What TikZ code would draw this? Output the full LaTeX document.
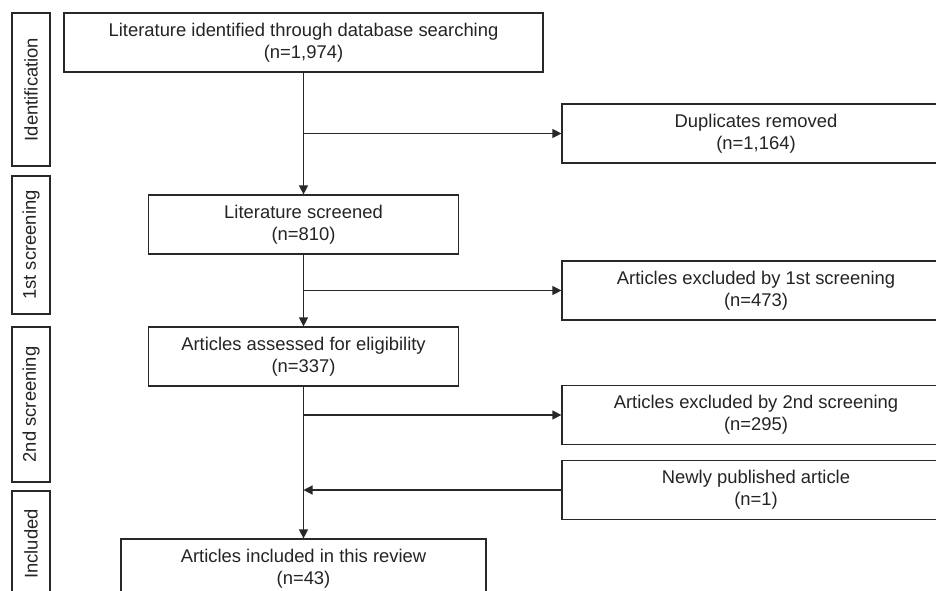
\documentclass[tikz,border=0pt]{standalone}
\usepackage{fontspec}
\setmainfont{Liberation Sans}
\usetikzlibrary{arrows.meta}
\definecolor{ink}{RGB}{40,40,40}
\tikzset{
  box/.style={draw=ink, line width=1.2pt, minimum height=59pt, align=center, inner sep=0pt,
    font=\fontsize{18.4}{22}\selectfont, text=ink!90!black},
  sidebox/.style={box, minimum width=388pt},
  stagebox/.style={draw=ink, line width=1.2pt, rotate=90, minimum height=38pt, inner sep=0pt,
    font=\fontsize{18.4}{22}\selectfont, text=ink!90!black},
  flow/.style={draw=ink, line width=1.2pt, -{Triangle[length=9pt,width=9pt]}},
  plain/.style={draw=ink, line width=1.2pt}
}
\begin{document}
\begin{tikzpicture}[x=1pt,y=-1pt]
\useasboundingbox (0,0) rectangle (936,591);
\clip (0,0) rectangle (936,591);
\fill[white] (0,0) rectangle (936,591);

% stage labels
\node[stagebox, minimum width=153pt] (sid) at (31,89.5) {Identification};
\node[stagebox, minimum width=138pt] (s1) at (31,245) {1st screening};
\node[stagebox, minimum width=155pt] (s2) at (31,404.5) {2nd screening};
\node[stagebox, minimum width=106pt] (sinc) at (31,544) {Included};

% main column
\node[box, minimum width=479pt] (top) at (303.5,42.5) {Literature identified through database searching\\(n=1,974)};
\node[box, minimum width=310pt] (scr) at (303.5,224.5) {Literature screened\\(n=810)};
\node[box, minimum width=310pt] (ass) at (303.5,356.5) {Articles assessed for eligibility\\(n=337)};
\node[box, minimum width=365pt] (inc) at (303.5,568.5) {Articles included in this review\\(n=43)};

% side column
\node[sidebox] (dup) at (756,133.5) {Duplicates removed\\(n=1,164)};
\node[sidebox] (ex1) at (756,290.5) {Articles excluded by 1st screening\\(n=473)};
\node[sidebox] (ex2) at (756,415) {Articles excluded by 2nd screening\\(n=295)};
\node[sidebox] (new) at (756,490) {Newly published article\\(n=1)};

% junction points
\coordinate (j1) at (top.south |- dup.west);
\coordinate (j2) at (scr.south |- ex1.west);
\coordinate (j3) at (ass.south |- ex2.west);
\coordinate (j4) at (ass.south |- new.west);

% connectors
\draw[flow] (top.south) -- (scr.north);
\draw[flow] (j1) -- (dup.west);
\draw[flow] (scr.south) -- (ass.north);
\draw[flow] (j2) -- (ex1.west);
\draw[flow] (ass.south) -- (inc.north);
\draw[flow] (j3) -- (ex2.west);
\draw[flow] (new.west) -- (j4);
\end{tikzpicture}
\end{document}
